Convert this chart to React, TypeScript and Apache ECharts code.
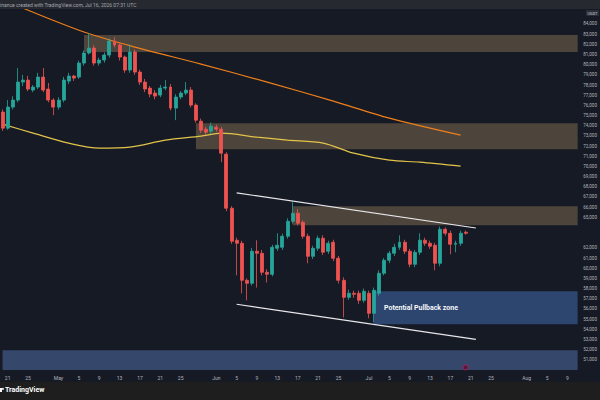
import React, { useEffect, useRef } from "react";
import * as echarts from "echarts";

// ---- categories (daily) ----
const START_UTC = Date.UTC(2026, 3, 20);
const DAY_COUNT = 114;
const MONTHS = ["Jan", "Feb", "Mar", "Apr", "May", "Jun", "Jul", "Aug", "Sep", "Oct", "Nov", "Dec"];
const categories: string[] = Array.from({ length: DAY_COUNT }, (_, i) =>
  new Date(START_UTC + i * 86400000).toISOString().slice(0, 10)
);
const LABEL_DAYS = [5, 9, 13, 17, 21, 25];

// ---- candles ----
const opens = [
  75338, 73764, 75829, 76518, 78289, 78485, 77502, 77797, 78780, 77600,
  76518, 75829, 76518, 78387, 78879, 78780, 80157, 81141, 81633, 80157,
  80453, 80944, 82321, 81928, 80748, 79469, 81239, 79272, 78289, 77698,
  77206, 77010, 77698, 77797, 75731, 76813, 77206, 77502, 76026, 74452,
  73666, 73469, 73862, 73666, 71207, 65895, 62748, 62453, 58813, 58518,
  61665, 61468, 59600, 59403, 61960, 62059, 63141, 64616, 65403, 64518,
  63141, 61173, 61960, 62945, 61665, 62551, 60977, 58813, 57141, 57535,
  57535, 56846, 57535, 55567, 57535, 59502, 60780, 61468, 62059, 62551,
  61665, 60387, 61567, 62748, 62453, 62256, 60485, 63830, 63436, 62354,
  62453, 63535,
];
const closes = [
  73764, 75829, 76518, 78289, 78485, 77600, 77797, 78780, 77502, 76518,
  75829, 76518, 78485, 78879, 78682, 80157, 81141, 81633, 80157, 80453,
  80944, 82321, 81928, 80748, 79469, 81239, 79272, 78289, 77600, 77108,
  76911, 77698, 77797, 75731, 76813, 77206, 77502, 76026, 74551, 73567,
  73370, 73961, 73666, 71305, 65895, 62649, 62453, 58813, 58518, 61665,
  61468, 59600, 59403, 62059, 62256, 63141, 64616, 65403, 64420, 63141,
  61173, 61960, 62945, 61567, 62453, 60977, 58813, 57141, 57535, 57436,
  56846, 57732, 55567, 57830, 59502, 60780, 61468, 62059, 62551, 61665,
  60387, 61567, 62748, 62453, 62157, 60485, 63830, 63436, 62354, 62453,
  63436, 63436,
];
const lows = [
  73500, 73600, 75600, 76300, 77900, 77400, 77300, 77600, 77300, 76300,
  75043, 75600, 76300, 78100, 78400, 78600, 79900, 81000, 79900, 79900,
  80200, 80700, 81700, 80400, 79200, 79200, 79000, 78000, 77300, 76800,
  76600, 76800, 77500, 75500, 74551, 76600, 77000, 75800, 74300, 73300,
  73100, 73200, 73400, 70420, 65600, 62400, 59300, 57535, 56846, 58300,
  58100, 59300, 58600, 59200, 61700, 61800, 62900, 64400, 64200, 62900,
  60485, 60900, 61700, 61300, 61400, 60700, 58500, 55174, 56900, 57100,
  56500, 56600, 55076, 54682, 57300, 59300, 60500, 61200, 61800, 61400,
  60100, 60100, 61300, 62200, 61900, 59797, 60200, 63200, 61370, 61567,
  62200, 63300,
];
const highs = [
  75600, 76518, 76900, 79665, 79000, 78900, 78000, 79200, 79665, 78200,
  76700, 76800, 78800, 79200, 79000, 80400, 81400, 83100, 81900, 80700,
  81200, 82600, 82700, 82100, 80900, 82000, 81500, 79500, 78600, 77900,
  77500, 78000, 78485, 78100, 77100, 77400, 78289, 77800, 76200, 74700,
  73900, 74300, 74100, 73900, 71400, 66100, 63000, 62700, 59000, 62000,
  62748, 61800, 59900, 62300, 63436, 63400, 64900, 66486, 65800, 64700,
  63400, 62200, 63200, 63240, 62700, 62800, 61200, 59100, 57900, 57800,
  57800, 58000, 57800, 58100, 59800, 61000, 61700, 62400, 63240, 62800,
  61900, 61800, 63436, 63000, 62700, 62500, 64100, 64000, 63700, 62700,
  63700, 63700,
];

// ---- moving averages (read points) ----
const orangeIdx = [3, 16, 26, 39, 52, 65, 76, 90];
const orangeVals = [85764, 83206, 81731, 80059, 78288, 76420, 74748, 73075];
const yellowIdx = [0, 6, 13, 19, 25, 32, 39, 43, 50, 56, 63, 69, 76, 82, 90];
const yellowVals = [74157, 73272, 72288, 71797, 71895, 72584, 72977, 73272, 72879, 72584, 72288, 71305, 70617, 70420, 70027];

// ---- zones ----
const resistStart = [16, 38, 57];
const resistTop = [82911, 74256, 66092];
const resistBottom = [81239, 71698, 64223];
const pullbackZone = { start: 73, top: 57732, bottom: 54486, label: "Potential Pullback zone" };
const lowerZone = { start: 0, top: 51930, bottom: 50000 };

// ---- channel lines ----
const upperChannel = [[46, 67400], [93, 63950]];
const lowerChannel = [[46, 56460], [93, 53010]];

// ---- axis ----
const Y_MIN = 50000;
const Y_MAX = 86000;
const Y_STEP = 1000;
const LAST_PRICE = 63436;
const HEADER_TEXT = "inance created with TradingView.com, Jul 16, 2026 07:31 UTC";

const sparse = (idx: number[], vals: number[], len: number) => {
  const arr: (number | null)[] = new Array(len).fill(null);
  idx.forEach((k, j) => (arr[k] = vals[j]));
  return arr;
};

export default function App() {
  const ref = useRef<HTMLDivElement>(null);
  useEffect(() => {
    if (!ref.current) return;
    const chart = echarts.init(ref.current, undefined, { renderer: "svg" });
    const FONT = "Roboto";
    const lastIdx = DAY_COUNT - 1;
    const candleData = opens.map((o, i) => [o, closes[i], lows[i], highs[i]]);

    const areas: any[] = resistStart.map((s, i) => [
      { xAxis: s, yAxis: resistTop[i], itemStyle: { color: "rgba(176,146,100,0.36)" } },
      { xAxis: lastIdx, yAxis: resistBottom[i] },
    ]);
    areas.push([
      {
        xAxis: pullbackZone.start,
        yAxis: pullbackZone.top,
        itemStyle: { color: "#2d4670" },
        label: {
          show: true,
          position: "insideLeft",
          distance: 10,
          formatter: pullbackZone.label,
          color: "#ffffff",
          fontSize: 7,
          fontWeight: 600,
          fontFamily: FONT,
        },
      },
      { xAxis: lastIdx, yAxis: pullbackZone.bottom },
    ]);
    areas.push([
      { xAxis: lowerZone.start, yAxis: lowerZone.top, itemStyle: { color: "#35476a" } },
      { xAxis: lastIdx, yAxis: lowerZone.bottom },
    ]);

    chart.setOption({
      animation: false,
      backgroundColor: "#161a25",
      grid: { left: 0, right: 17, top: 3.6, bottom: 30, containLabel: false },
      xAxis: {
        type: "category",
        data: categories,
        boundaryGap: true,
        axisLine: { show: false },
        axisTick: { show: false },
        splitLine: { show: false },
        axisLabel: {
          color: "#b2b5be",
          fontSize: 5,
          fontFamily: FONT,
          margin: 5,
          interval: (_i: number, v: string) => {
            const d = new Date(v + "T00:00:00Z");
            const day = d.getUTCDate();
            return day === 1 || LABEL_DAYS.includes(day);
          },
          formatter: (v: string) => {
            const d = new Date(v + "T00:00:00Z");
            const day = d.getUTCDate();
            return day === 1 ? MONTHS[d.getUTCMonth()] : String(day);
          },
        },
      },
      yAxis: {
        type: "value",
        position: "right",
        min: Y_MIN,
        max: Y_MAX,
        interval: Y_STEP,
        axisLine: { show: false },
        axisTick: { show: false },
        splitLine: { show: false },
        axisLabel: {
          color: "#b2b5be",
          fontSize: 4.6,
          fontFamily: FONT,
          margin: 3,
          formatter: (v: number) =>
            v > 84000 || v < 51000 || Math.abs(v - LAST_PRICE) < 900
              ? ""
              : v.toLocaleString("en-US"),
        },
      },
      series: [
        {
          name: "zones",
          type: "line",
          data: [],
          z: 1,
          markArea: { silent: true, data: areas },
        },
        {
          name: "MA slow",
          type: "line",
          data: sparse(orangeIdx, orangeVals, DAY_COUNT),
          connectNulls: true,
          smooth: 0.3,
          showSymbol: false,
          symbol: "none",
          z: 4,
          lineStyle: { color: "#ef7f1a", width: 1.2 },
        },
        {
          name: "MA fast",
          type: "line",
          data: sparse(yellowIdx, yellowVals, DAY_COUNT),
          connectNulls: true,
          smooth: 0.3,
          showSymbol: false,
          symbol: "none",
          z: 4,
          lineStyle: { color: "#e3c44a", width: 1.2 },
        },
        {
          name: "price",
          type: "candlestick",
          data: candleData,
          z: 5,
          barWidth: "68%",
          itemStyle: {
            color: "#26a69a",
            color0: "#ef5350",
            borderColor: "#26a69a",
            borderColor0: "#ef5350",
            borderWidth: 0.8,
          },
          markLine: {
            silent: true,
            symbol: "none",
            data: [
              [
                { coord: upperChannel[0], lineStyle: { color: "#e8e8ec", width: 1.2, type: "solid" } },
                { coord: upperChannel[1] },
              ],
              [
                { coord: lowerChannel[0], lineStyle: { color: "#e8e8ec", width: 1.2, type: "solid" } },
                { coord: lowerChannel[1] },
              ],
              {
                yAxis: LAST_PRICE,
                lineStyle: { opacity: 0 },
                label: {
                  show: true,
                  position: "end",
                  distance: 2,
                  formatter: LAST_PRICE.toLocaleString("en-US") + "\n07:28:41",
                  backgroundColor: "#c9cbd1",
                  color: "#131722",
                  fontSize: 4,
                  lineHeight: 4.6,
                  padding: [1, 1],
                  fontFamily: FONT,
                },
              },
            ],
            label: { show: false },
          },
          markPoint: {
            silent: true,
            data: [
              {
                coord: [91, 50250],
                symbol: "circle",
                symbolSize: 5,
                itemStyle: { color: "#4a1f3c", borderColor: "#c2185b", borderWidth: 1 },
                label: { show: false },
              },
            ],
          },
        },
      ],
      graphic: [
        { type: "rect", left: 0, top: 0, z: 100, shape: { width: 600, height: 9 }, style: { fill: "#262930" } },
        {
          type: "text",
          left: 0,
          top: 2,
          z: 101,
          style: { text: HEADER_TEXT, fill: "#a3a6af", fontSize: 5, fontFamily: FONT },
        },
        { type: "rect", left: 586, top: 10, z: 100, shape: { width: 13, height: 6 }, style: { fill: "#2a2e39" } },
        {
          type: "text",
          left: 587.5,
          top: 11,
          z: 101,
          style: { text: "USDT", fill: "#d1d4dc", fontSize: 4, fontFamily: FONT },
        },
        { type: "rect", left: 0, top: 382, z: 100, shape: { width: 600, height: 18 }, style: { fill: "#1e1e1e" } },
        { type: "rect", left: 0, top: 388, z: 101, shape: { width: 2, height: 4 }, style: { fill: "#ffffff" } },
        { type: "circle", left: 2, top: 388, z: 101, shape: { r: 0.9 }, style: { fill: "#ffffff" } },
        {
          type: "text",
          left: 5,
          top: 386,
          z: 101,
          style: { text: "TradingView", fill: "#ffffff", fontSize: 7, fontWeight: 700, fontFamily: FONT },
        },
      ],
    });
    return () => chart.dispose();
  }, []);
  return (
    <div
      ref={ref}
      style={{ position: "fixed", left: 0, top: 0, width: 600, height: 400 }}
    />
  );
}
